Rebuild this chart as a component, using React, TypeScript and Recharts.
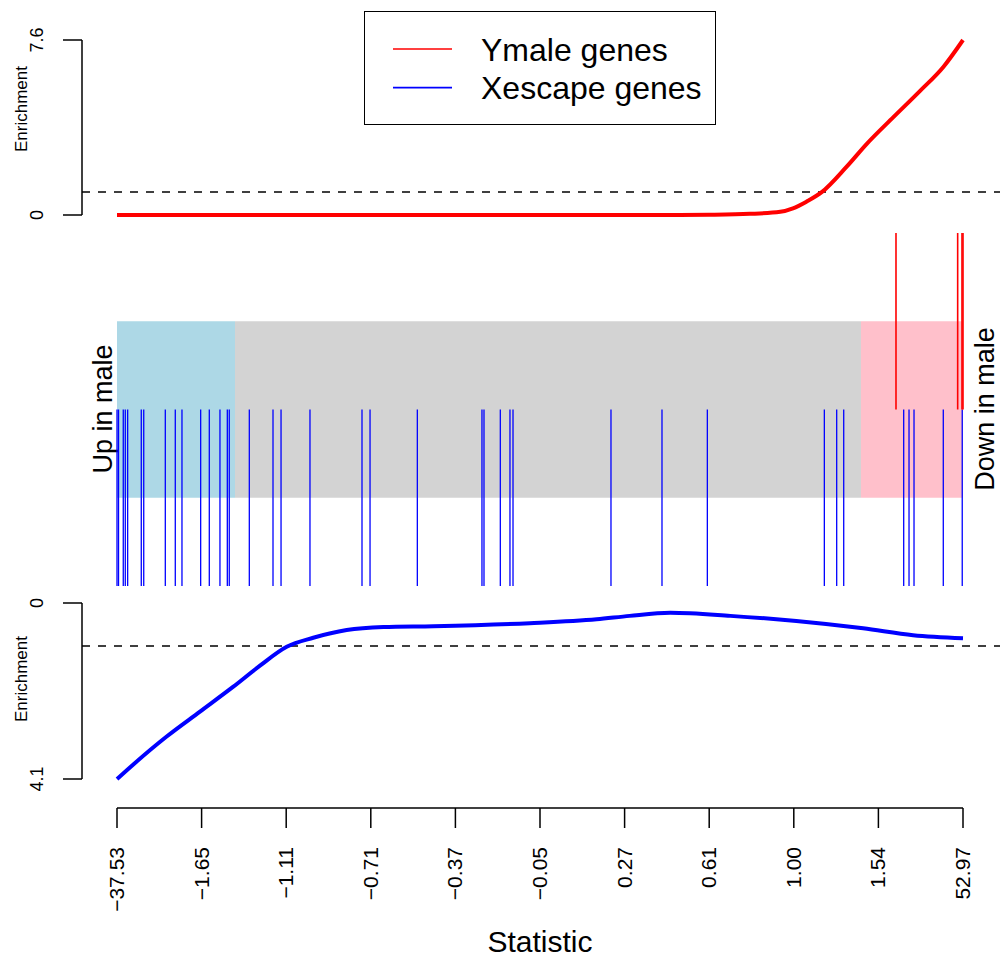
import React from 'react';
import {
  LineChart,
  ComposedChart,
  Line,
  XAxis,
  YAxis,
  ReferenceLine,
  ReferenceArea,
  Legend,
} from 'recharts';

const FONT = '"Liberation Sans", Arial, Helvetica, sans-serif';

// x-axis: rank position (percent of genes), labelled with the statistic at that rank
const RANK_TICKS = [0, 10, 20, 30, 40, 50, 60, 70, 80, 90, 100];
const STAT_LABELS = ['−37.53', '−1.65', '−1.11', '−0.71', '−0.37', '−0.05', '0.27', '0.61', '1.00', '1.54', '52.97'];

// Ymale enrichment curve
const YMALE_RANK = [0, 20, 40, 60, 66.5, 70, 74.8, 78.4, 79.9, 81.5, 83.3, 86.25, 88.6, 91.8, 94.9, 97.7, 100];
const YMALE_ENRICH = [0, 0, 0, 0, 0, 0.01, 0.05, 0.14, 0.29, 0.58, 0.99, 2.1, 3.08, 4.26, 5.38, 6.44, 7.6];

// Xescape enrichment curve
const XESC_RANK = [0, 1.93, 5.87, 9.81, 13.75, 16.9, 20.06, 23.2, 27.15, 31.5, 37.4, 48.8, 56.7, 60.6, 65.4, 72.5, 80.3, 88.2, 94.1, 100];
const XESC_ENRICH = [4.1, 3.76, 3.11, 2.53, 1.95, 1.46, 1.02, 0.81, 0.63, 0.56, 0.54, 0.47, 0.38, 0.3, 0.23, 0.3, 0.42, 0.59, 0.75, 0.82];

// barcode positions (rank %)
const YMALE_GENES = [92.08, 99.37, 99.88, 100];
const XESC_GENES = [
  0, 0.18, 0.74, 0.98, 1.26, 2.87, 3.16, 5.71, 6.89, 7.68, 9.89, 10.91, 12.17, 13.04, 13.27,
  15.64, 18.44, 19.39, 22.81, 28.96, 29.91, 35.5, 43.14, 43.38, 45.31, 46.45, 46.81, 58.39,
  64.42, 69.78, 83.61, 85.07, 85.9, 92.99, 93.62, 94.21, 97.67, 99.91,
];

// regions of the statistic
const REGION_BOUNDS = [0, 13.95, 87.94, 100];
const REGION_COLORS = ['#ADD8E6', '#D3D3D3', '#FFC0CB'];
const REGION_TEXT = ['Up in male', 'Down in male'];

const SERIES_NAMES = ['Ymale genes', 'Xescape genes'];
const SERIES_COLORS = ['#FF0000', '#0000FF'];
const YMALE_AXIS = [0, 7.6];
const XESC_AXIS = [0, 4.1];
const NULL_LEVEL = 1;

const ymaleData = YMALE_RANK.map((r, i) => ({ rank: r, enrich: YMALE_ENRICH[i] }));
const xescData = XESC_RANK.map((r, i) => ({ rank: r, enrich: XESC_ENRICH[i] }));
const tickData = RANK_TICKS.map((r) => ({ rank: r, level: 0 }));

const W = 1000;
const H = 960;
const XPAD = { left: 35, right: 37 };
const AXIS_STYLE = { stroke: '#000', strokeWidth: 1.5 };

const fmtEnrich = (v: number) => (v === 0 ? '0' : String(v));

const EnrichTick = (props: any) => {
  const { y, payload } = props;
  const bx = 43;
  return (
    <text
      x={bx}
      y={y}
      transform={`rotate(-90 ${bx} ${y})`}
      textAnchor="middle"
      fontSize={18}
      fontFamily={FONT}
      fill="#000"
    >
      {fmtEnrich(payload.value)}
    </text>
  );
};

const enrichLabel = (cy: number) => () => (
  <text
    x={27}
    y={cy}
    transform={`rotate(-90 27 ${cy})`}
    textAnchor="middle"
    fontSize={17}
    fontFamily={FONT}
    fill="#000"
  >
    Enrichment
  </text>
);

const StatTick = (props: any) => {
  const { x, payload } = props;
  const idx = RANK_TICKS.indexOf(payload.value);
  const bx = x + 7;
  const by = 847;
  return (
    <text
      x={bx}
      y={by}
      transform={`rotate(-90 ${bx} ${by})`}
      textAnchor="end"
      fontSize={21}
      fontFamily={FONT}
      fill="#000"
    >
      {idx >= 0 ? STAT_LABELS[idx] : ''}
    </text>
  );
};

const regionLabel = (text: string, bx: number) => () => (
  <text
    x={bx}
    y={409}
    transform={`rotate(-90 ${bx} 409)`}
    textAnchor="middle"
    fontSize={27}
    fontFamily={FONT}
    fill="#000"
  >
    {text}
  </text>
);

const renderLegend = () => (
  <div
    style={{
      boxSizing: 'border-box',
      width: 352,
      height: 114,
      border: '1.5px solid #000',
      background: '#fff',
    }}
  >
    <svg width={349} height={111} style={{ display: 'block' }}>
      {SERIES_NAMES.map((name, i) => (
        <g key={name}>
          <line x1={28} x2={87} y1={37 + i * 38.6} y2={37 + i * 38.6} stroke={SERIES_COLORS[i]} strokeWidth={1.6} />
          <text x={116} y={48.5 + i * 38.6} fontSize={32} fontFamily={FONT} fill="#000">
            {name}
          </text>
        </g>
      ))}
    </svg>
  </div>
);

const Layer: React.FC<{ children: React.ReactNode }> = ({ children }) => (
  <div style={{ position: 'absolute', left: 0, top: 0, width: W, height: H }}>{children}</div>
);

export default function App() {
  return (
    <div style={{ position: 'absolute', left: 0, top: 0, width: W, height: H, background: '#fff', overflow: 'hidden' }}>
      {/* middle barcode panel */}
      <Layer>
        <ComposedChart width={W} height={H} data={tickData} margin={{ top: 233, right: 0, bottom: 374, left: 82 }}>
          <XAxis type="number" dataKey="rank" domain={[0, 100]} allowDataOverflow padding={XPAD} hide />
          <YAxis type="number" dataKey="level" domain={[-2, 2]} allowDataOverflow hide />
          {REGION_COLORS.map((c, i) => (
            <ReferenceArea
              key={c}
              x1={REGION_BOUNDS[i]}
              x2={REGION_BOUNDS[i + 1]}
              y1={-1}
              y2={1}
              fill={c}
              fillOpacity={1}
              stroke="none"
              ifOverflow="visible"
              label={
                i === 0
                  ? { content: regionLabel(REGION_TEXT[0], 112) }
                  : i === 2
                  ? { content: regionLabel(REGION_TEXT[1], 994) }
                  : undefined
              }
            />
          ))}
          {XESC_GENES.map((p, i) => (
            <ReferenceLine
              key={'x' + i}
              segment={[
                { x: p, y: 0 },
                { x: p, y: -2 },
              ]}
              ifOverflow="visible"
              stroke={SERIES_COLORS[1]}
              strokeWidth={1.3}
            />
          ))}
          {YMALE_GENES.map((p, i) => (
            <ReferenceLine
              key={'y' + i}
              segment={[
                { x: p, y: 0 },
                { x: p, y: 2 },
              ]}
              ifOverflow="visible"
              stroke={SERIES_COLORS[0]}
              strokeWidth={1.6}
            />
          ))}
        </ComposedChart>
      </Layer>

      {/* top enrichment panel */}
      <Layer>
        <LineChart width={W} height={H} data={ymaleData} margin={{ top: 40, right: 0, bottom: 745, left: 0 }}>
          <XAxis type="number" dataKey="rank" domain={[0, 100]} padding={XPAD} hide />
          <YAxis
            type="number"
            domain={YMALE_AXIS}
            ticks={YMALE_AXIS}
            interval={0}
            width={82}
            tickSize={19}
            axisLine={AXIS_STYLE}
            tickLine={AXIS_STYLE}
            tick={EnrichTick}
            label={{ content: enrichLabel(109) }}
          />
          <ReferenceLine y={NULL_LEVEL} stroke="#000" strokeWidth={1.6} strokeDasharray="8 8" />
          <Line
            type="monotone"
            dataKey="enrich"
            name={SERIES_NAMES[0]}
            stroke={SERIES_COLORS[0]}
            strokeWidth={4}
            dot={false}
            isAnimationActive={false}
          />
          <Legend
            layout="vertical"
            align="center"
            verticalAlign="middle"
            wrapperStyle={{ left: 364, top: 11, width: 352, height: 114 }}
            content={renderLegend}
          />
        </LineChart>
      </Layer>

      {/* bottom enrichment panel */}
      <Layer>
        <LineChart width={W} height={H} data={xescData} margin={{ top: 603, right: 0, bottom: 181, left: 0 }}>
          <XAxis type="number" dataKey="rank" domain={[0, 100]} padding={XPAD} hide />
          <YAxis
            type="number"
            domain={XESC_AXIS}
            ticks={XESC_AXIS}
            interval={0}
            reversed
            width={82}
            tickSize={19}
            axisLine={AXIS_STYLE}
            tickLine={AXIS_STYLE}
            tick={EnrichTick}
            label={{ content: enrichLabel(679) }}
          />
          <ReferenceLine y={NULL_LEVEL} stroke="#000" strokeWidth={1.6} strokeDasharray="8 8" />
          <Line
            type="monotone"
            dataKey="enrich"
            name={SERIES_NAMES[1]}
            stroke={SERIES_COLORS[1]}
            strokeWidth={4}
            dot={false}
            isAnimationActive={false}
          />
        </LineChart>
      </Layer>

      {/* statistic axis */}
      <Layer>
        <ComposedChart width={W} height={H} data={tickData} margin={{ top: 700, right: 37, bottom: 0, left: 117 }}>
          <XAxis
            type="number"
            dataKey="rank"
            domain={[0, 100]}
            ticks={RANK_TICKS}
            interval={0}
            height={152}
            tickSize={20}
            axisLine={AXIS_STYLE}
            tickLine={AXIS_STYLE}
            tick={StatTick}
            label={{
              content: () => (
                <text x={540} y={952} textAnchor="middle" fontSize={30} fontFamily={FONT} fill="#000">
                  Statistic
                </text>
              ),
            }}
          />
          <YAxis type="number" domain={[0, 1]} hide />
        </ComposedChart>
      </Layer>
    </div>
  );
}
